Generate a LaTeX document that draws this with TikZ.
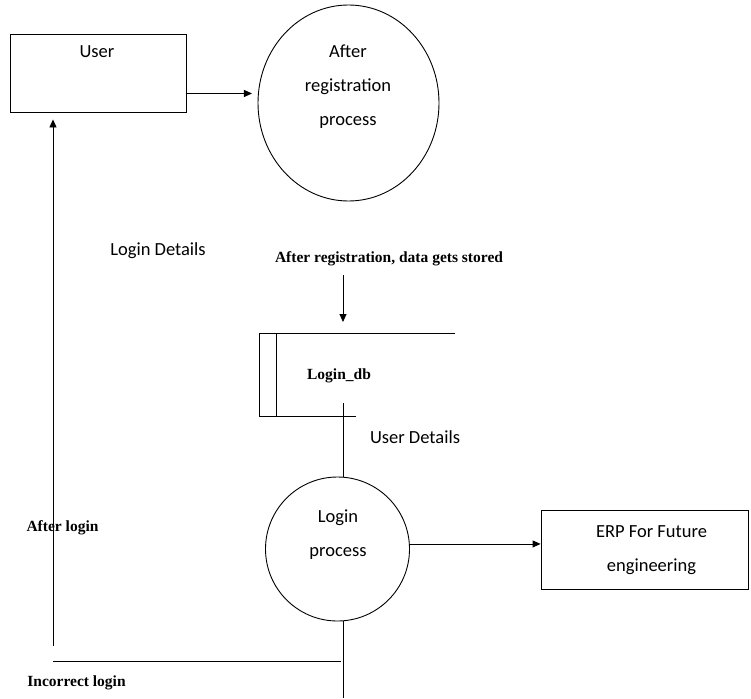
\documentclass[tikz,border=0pt]{standalone}
\usepackage{fontspec}
\setmainfont{Carlito}
\newfontfamily\tnr{Liberation Serif}
\usetikzlibrary{arrows.meta,shapes.geometric}
\tikzset{
	box/.style={draw, rectangle, inner sep=0pt},
	proc/.style={draw, ellipse, inner sep=0pt},
	flow/.style={-{Triangle[length=8pt,width=7pt]}},
	lbl/.style={font=\fontsize{18.5}{34}\selectfont, align=center, inner sep=0pt},
	note/.style={font=\tnr\bfseries\fontsize{15.5}{18}\selectfont, inner sep=0pt}
}

\begin{document}
\begin{tikzpicture}[x=1pt, y=-1pt, line width=0.9pt]
			%%%%% START %%%%%
			\useasboundingbox (0, 0) rectangle (751, 698);
			
			\node[box, minimum width=176, minimum height=78] (user) at (98, 73) {};
			\node[lbl] (usertxt) at (97, 52) {User};
			
			\node[proc, minimum width=181, minimum height=196] (reg) at (348.5, 103) {};
			\node[lbl] (regtxt) at (348, 87) {After\\registration\\process};
			
			\draw[flow, shorten >=6pt] (user.east |- reg.174) -- (reg.174);
			
			\node[lbl] (logdet) at (158, 251) {Login Details};
			\node[note] (storenote) at (389, 259) {After registration, data gets stored};
			
			\coordinate (sna) at (343, 275);
			\coordinate (dbtl) at (259, 333);
			\draw[flow, shorten >=11pt] (sna) -- (sna |- dbtl);
			
			\draw (455, 333) -- (dbtl) -- (259, 416) -- (356, 416);
			\draw (276, 333) -- (276, 416);
			\node[note] (dbtxt) at (339, 376) {Login\_db};
			
			\node[lbl] (userdet) at (415, 437) {User Details};
			
			\node[proc, minimum width=144, minimum height=144] (login) at (337.5, 549) {};
			\node[lbl] (logintxt) at (338, 535) {Login\\process};
			
			\coordinate (dbo) at (343, 403);
			\draw (dbo) -- (dbo |- login.north);
			
			\node[box, minimum width=207, minimum height=79] (erp) at (644.5, 549.5) {};
			\node[lbl] (erptxt) at (651.5, 550) {ERP For Future\\engineering};
			\draw[flow] (login.4) -- (login.4 -| erp.west);
			
			\node[note] (afterlogin) at (62.5, 528) {After login};
			\coordinate (alb) at (53, 646);
			\draw[flow, shorten >=7pt] (alb) -- (alb |- user.south);
			
			\coordinate (ill) at (53, 661);
			\coordinate (ilr) at (341, 661);
			\draw (ill) -- (ilr);
			\coordinate (lpb) at (343, 698);
			\draw (lpb |- login.south) -- (lpb);
			\node[note] (incorrect) at (76.5, 683) {Incorrect login};
			
			%%%%% END %%%%%
\end{tikzpicture}
\end{document}
